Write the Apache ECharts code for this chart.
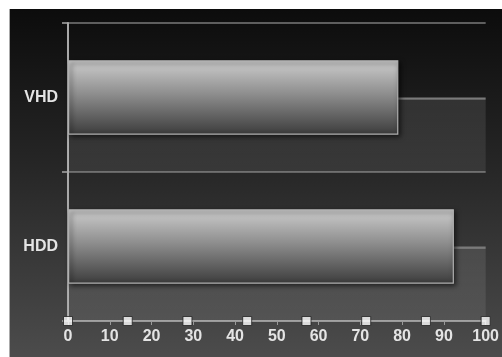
<!DOCTYPE html>
<html><head><meta charset="utf-8">
<script src="https://cdn.jsdelivr.net/npm/echarts@6/dist/echarts.min.js"></script>
<style>
html,body{margin:0;padding:0;background:#fff;width:502px;height:357px;overflow:hidden}
#c{position:absolute;left:9px;top:9px;width:493px;height:348px;border-left:1px solid #aaa;box-sizing:border-box}
</style></head>
<body><div id="c"></div>
<script>
var categories = ['HDD', 'VHD'];
var values = [92.4, 79.1];
var backgroundValues = [100, 100];
var handleValues = [0, 14.3, 28.6, 42.9, 57.1, 71.4, 85.7, 100];
var xTicks = [0, 10, 20, 30, 40, 50, 60, 70, 80, 90, 100];

var chart = echarts.init(document.getElementById('c'), null, {renderer: 'canvas'});
var font = {fontFamily: 'Liberation Sans, Arial, sans-serif', fontWeight: 'bold', fontSize: 16, color: '#e4e4e4'};
chart.setOption({
  animation: false,
  backgroundColor: new echarts.graphic.LinearGradient(0, 0, 0, 1, [
    {offset: 0, color: '#0c0c0c'}, {offset: 0.45, color: '#262626'}, {offset: 1, color: '#4c4c4c'}
  ]),
  grid: {left: 58, right: 13, top: 14, bottom: 36},
  xAxis: {
    type: 'value', min: xTicks[0], max: xTicks[xTicks.length - 1], interval: 10,
    axisLine: {show: true, lineStyle: {color: '#9a9a9a', width: 2}},
    axisTick: {show: true, length: 4, lineStyle: {color: '#9a9a9a'}},
    axisLabel: Object.assign({margin: 8}, font),
    splitLine: {show: false}
  },
  yAxis: [{
    type: 'category', data: categories,
    axisLine: {show: true, lineStyle: {color: '#a8a8a8', width: 2}},
    axisTick: {show: true, length: 6, lineStyle: {color: '#a8a8a8', width: 1.5}},
    axisLabel: Object.assign({margin: 10}, font),
    splitLine: {show: true, lineStyle: {color: '#7a7a7a', width: 1.5}}
  }, {
    type: 'value', min: 0, max: 1, show: false
  }],
  series: [{
    type: 'bar', name: 'spacer', data: categories.map(function(){return '-';}),
    barWidth: '50%', barGap: '-50%'
  }, {
    type: 'bar', name: 'value', data: values, barWidth: '50%', barGap: '-50%', z: 5,
    itemStyle: {
      color: new echarts.graphic.LinearGradient(0, 0, 0, 1, [
        {offset: 0, color: '#cdcdcd'}, {offset: 0.45, color: '#8e8e8e'}, {offset: 1, color: '#3c3c3c'}
      ]),
      borderColor: '#b0b0b0', borderWidth: 1.2,
      shadowColor: 'rgba(0,0,0,0.7)', shadowBlur: 5, shadowOffsetX: 2, shadowOffsetY: 2
    }
  }, {
    type: 'bar', name: 'background', data: backgroundValues, barWidth: '50%', barGap: '-50%', z: 1,
    itemStyle: {
      color: new echarts.graphic.LinearGradient(0, 0, 0, 1, [
        {offset: 0, color: '#7a7a7a'}, {offset: 0.02, color: '#7a7a7a'},
        {offset: 0.03, color: 'rgba(255,255,255,0.1)'}, {offset: 1, color: 'rgba(255,255,255,0.08)'}
      ])
    }
  }, {
    type: 'scatter', name: 'handles', xAxisIndex: 0, yAxisIndex: 1, z: 10,
    data: handleValues.map(function(v){return [v, 0];}),
    symbol: 'rect', symbolSize: 9,
    itemStyle: {color: '#ffffff', borderColor: '#222', borderWidth: 1}
  }]
});
</script></body></html>
